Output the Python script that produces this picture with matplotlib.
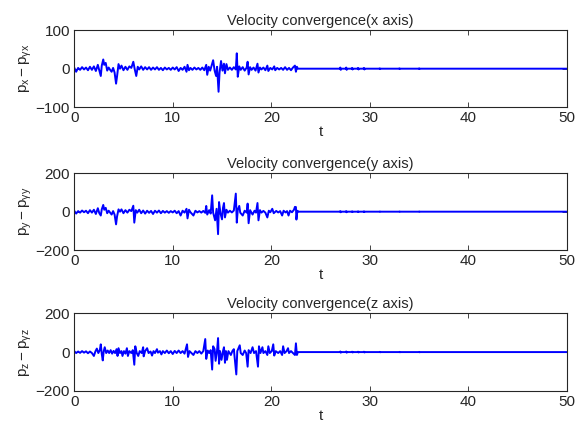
import matplotlib
matplotlib.use("Agg")
import matplotlib.pyplot as plt

plt.rcParams['font.family'] = ['Liberation Sans', 'DejaVu Sans']
plt.rcParams['mathtext.fontset'] = 'custom'
plt.rcParams['mathtext.rm'] = 'Liberation Sans'
plt.rcParams['mathtext.it'] = 'Liberation Sans'

# ---- data ----
tail_t = [22.7, 26.95, 27.0, 27.05, 27.1, 27.55, 27.6, 27.65, 27.7, 28.15, 28.2, 28.25, 28.3,
          28.75, 28.8, 28.85, 28.9, 29.35, 29.4, 29.45, 29.5, 30.95, 31.0, 31.05, 31.1,
          32.95, 33.0, 33.05, 33.1, 34.95, 35.0, 35.05, 35.1, 50.0]
tail_v = [0, 0, 3, -3, 0, 0, 3, -3, 0, 0, 2, -2, 0, 0, 2, -2, 0, 0, 2, -2, 0, 0, 1, -1, 0,
          0, 1, -1, 0, 0, 1, -1, 0, 0]

tx = [0, 0.2, 0.4, 0.6, 0.8, 1.0, 1.2, 1.4, 1.6, 1.8, 2.0, 2.2, 2.4, 2.55, 2.7, 2.8, 2.95, 3.05,
      3.2, 3.35, 3.5, 3.65, 3.8, 3.95, 4.1, 4.25, 4.35, 4.5, 4.65, 4.8, 5.0, 5.2, 5.4, 5.6, 5.8,
      6.0, 6.15, 6.3, 6.45, 6.6, 6.8, 7.0, 7.2, 7.4, 7.6, 7.8, 8.0, 8.2, 8.4, 8.6, 8.8, 9.0, 9.2,
      9.4, 9.6, 9.8, 10.0, 10.2, 10.4, 10.6, 10.8, 11.0, 11.2, 11.4, 11.5, 11.65, 11.8, 12.0, 12.2,
      12.4, 12.6, 12.8, 13.0, 13.2, 13.4, 13.5, 13.65, 13.8, 13.95, 14.1, 14.25, 14.4, 14.5, 14.65,
      14.75, 14.9, 15.05, 15.2, 15.3, 15.45, 15.6, 15.8, 16.0, 16.2, 16.4, 16.5, 16.6, 16.75, 16.9,
      17.1, 17.3, 17.5, 17.6, 17.7, 17.85, 18.0, 18.2, 18.4, 18.6, 18.7, 18.85, 19.0, 19.2, 19.4,
      19.6, 19.7, 19.9, 20.1, 20.3, 20.4, 20.6, 20.8, 21.0, 21.2, 21.4, 21.6, 21.8, 22.0, 22.2,
      22.4, 22.5, 22.6]
vx = [3, -8, 2, -3, 4, -2, 3, -4, 5, -3, 6, -6, 10, -4, -19, 8, 24, 10,
      15, -5, 3, -3, -8, 2, -10, -39, -20, 12, 0, 8, -4, 5, -3, 6, 2,
      18, -2, -19, 5, -2, 6, -3, 4, -2, 4, -3, 3, -2, 4, -3, 2, -4, 3,
      -2, 2, -3, 3, -2, 4, -6, 2, -3, 5, -8, 10, -4, 2, -3, 3,
      -2, 2, -3, 3, -4, 10, -16, 5, -5, 8, 22, -5, -19, 5, -60,
      -10, 20, -5, 13, -12, 12, -3, 3, -3, 4, -2, 40, -21, 6, -3,
      4, -5, 3, 18, -15, 4, -3, 3, -5, 13, -10, 3, -2, 3, -4,
      8, -6, 2, -2, 6, -4, 2, -2, 2, -3, 4, -3, 2, -4, 3,
      8, -8, 5]

ty = [0, 0.2, 0.4, 0.6, 0.8, 1.0, 1.2, 1.4, 1.6, 1.8, 2.0, 2.2, 2.4, 2.55, 2.7, 2.8, 2.95, 3.05,
      3.2, 3.35, 3.5, 3.65, 3.8, 3.95, 4.1, 4.25, 4.35, 4.5, 4.65, 4.8, 5.0, 5.2, 5.4, 5.6, 5.8,
      6.0, 6.1, 6.25, 6.4, 6.6, 6.8, 7.0, 7.2, 7.4, 7.6, 7.8, 8.0, 8.2, 8.4, 8.6, 8.8, 9.0, 9.2,
      9.4, 9.6, 9.8, 10.0, 10.2, 10.4, 10.6, 10.8, 11.0, 11.2, 11.4, 11.5, 11.65, 11.8, 12.1, 12.3,
      12.5, 12.7, 12.9, 13.1, 13.3, 13.4, 13.5, 13.7, 13.85, 14.0, 14.1, 14.3, 14.45, 14.6, 14.7,
      14.85, 15.0, 15.1, 15.2, 15.3, 15.45, 15.6, 15.8, 16.0, 16.2, 16.4, 16.5, 16.6, 16.75, 16.85,
      17.1, 17.3, 17.5, 17.6, 17.7, 17.85, 18.1, 18.3, 18.45, 18.6, 18.7, 18.85, 19.0, 19.2, 19.4,
      19.6, 19.75, 19.9, 20.1, 20.25, 20.5, 20.7, 20.9, 21.1, 21.25, 21.45, 21.6, 21.75, 21.9, 22.1,
      22.3, 22.4, 22.5, 22.55, 22.65]
vy = [5, -10, 3, -5, 6, -3, 5, -8, 8, -5, 10, -12, 18, -8, -20, 12, 35, 10,
      20, -8, 5, -5, -15, 3, -15, -66, -25, 12, 0, 12, -8, 8, -5, 10, 3,
      31, -57, 8, -5, 10, -8, 6, -10, 5, -6, 4, -12, 5, -5, 6, -8, 4, -5,
      3, -6, 3, -4, 5, -8, 3, -20, 5, -5, 15, -35, 10, -3, -20, 5,
      -4, 3, -5, 4, -6, 30, -15, 8, -10, 85, -5, -45, 15, -117, 50,
      -10, -40, 20, 45, -30, 10, -5, 5, -4, 6, 94, -57, 10, 30, -5,
      -20, 5, -5, 42, -60, 8, -15, 5, -5, 45, -45, 8, -5, 4, -5,
      -30, 5, -3, 15, -8, 4, -4, 3, -20, 5, -4, 3, -20, 5, -3,
      10, 25, 24, -41, 5]

tz = [0, 0.2, 0.4, 0.6, 0.8, 1.0, 1.2, 1.4, 1.6, 1.8, 2.0, 2.15, 2.3, 2.45, 2.6, 2.7, 2.8, 2.9,
      3.0, 3.1, 3.25, 3.4, 3.55, 3.7, 3.85, 4.0, 4.15, 4.3, 4.4, 4.5, 4.65, 4.8, 4.9, 5.05, 5.2,
      5.35, 5.45, 5.6, 5.8, 5.95, 6.1, 6.2, 6.35, 6.5, 6.65, 6.85, 7.0, 7.05, 7.2, 7.4, 7.55, 7.75,
      7.9, 8.05, 8.2, 8.4, 8.5, 8.7, 8.85, 9.0, 9.2, 9.4, 9.6, 9.8, 10.0, 10.2, 10.4, 10.6, 10.8,
      11.0, 11.2, 11.45, 11.55, 11.7, 11.9, 12.1, 12.3, 12.5, 12.7, 12.9, 13.1, 13.3, 13.4, 13.55,
      13.7, 13.85, 14.0, 14.1, 14.25, 14.35, 14.5, 14.6, 14.7, 14.8, 14.95, 15.1, 15.2, 15.3, 15.4,
      15.5, 15.65, 15.9, 16.05, 16.2, 16.45, 16.55, 16.8, 16.9, 17.1, 17.3, 17.45, 17.6, 17.7, 17.9,
      18.1, 18.25, 18.45, 18.65, 18.75, 18.9, 19.1, 19.2, 19.4, 19.6, 19.7, 19.85, 20.05, 20.2,
      20.3, 20.45, 20.7, 20.9, 21.1, 21.2, 21.35, 21.55, 21.7, 21.8, 22.0, 22.2, 22.4, 22.5, 22.6]
vz = [5, -5, 3, -4, 5, -3, 4, -6, 3, -5, -20, 3, 18, -5, 10, 40, -10, -43,
      5, 25, -5, 8, -5, 10, -8, 6, -5, 15, -20, 20, -5, 5, -20, 5, -8,
      20, -20, 5, -5, 10, -65, 30, -5, -20, 5, -5, 25, -22, 5, 20, -5, 3,
      -18, 5, -5, 15, -3, 5, -12, 5, -5, 8, -6, 5, -10, 6, -5, 8, -5,
      5, -8, 40, -25, 5, -5, -15, 5, -5, 5, -8, 5, 67, -35, 8,
      -5, 10, -90, 30, 15, -45, 10, 72, -60, 5, -40, 5, 25, -55, 5,
      -40, 5, -15, 5, 15, -115, 5, 35, -5, -15, 8, -5, -75, 10, -5,
      25, -5, 5, -75, 30, -5, 25, -5, 5, -15, 30, -5, 5, 40,
      -18, 5, -5, 5, -15, 30, -5, 5, 20, -5, 5, -5, -15, 45, -15]

titles = ['Velocity convergence(x axis)', 'Velocity convergence(y axis)',
          'Velocity convergence(z axis)']
ylabels = [r'$\mathregular{p_x - p_{\gamma x}}$', r'$\mathregular{p_y - p_{\gamma y}}$',
           r'$\mathregular{p_z - p_{\gamma z}}$']
ylims = [(-100, 100), (-200, 200), (-200, 200)]
yticks = [[-100, 0, 100], [-200, 0, 200], [-200, 0, 200]]
xticks = [0, 10, 20, 30, 40, 50]

series = [(tx, vx), (ty, vy), (tz, vz)]

fig = plt.figure(figsize=(5.75, 4.32), dpi=100)
rects = [[0.129, 0.752, 0.857, 0.178],
         [0.129, 0.421, 0.857, 0.178],
         [0.129, 0.095, 0.857, 0.180]]

for i in range(3):
    ax = fig.add_axes(rects[i])
    t, v = series[i]
    ax.plot(list(t) + tail_t, list(v) + tail_v, color=(0, 0, 1), linewidth=1.4)
    ax.set_xlim(0, 50)
    ax.set_ylim(*ylims[i])
    ax.set_xticks(xticks)
    ax.set_yticks(yticks[i])
    ax.set_yticklabels([str(y).replace('-', '\u2212') for y in yticks[i]])
    ax.tick_params(direction='in', top=True, right=True, labelsize=11, length=3.5, width=0.6,
                   pad=3, colors='#262626')
    for s in ax.spines.values():
        s.set_linewidth(0.8)
        s.set_color('#262626')
    ax.set_title(titles[i], fontsize=10.5, pad=4, color='#262626')
    ax.set_xlabel('t', fontsize=11, labelpad=0, color='#262626')
    ax.set_ylabel(ylabels[i], fontsize=11, labelpad=1, color='#262626')

fig.savefig('out.png', dpi=100)
